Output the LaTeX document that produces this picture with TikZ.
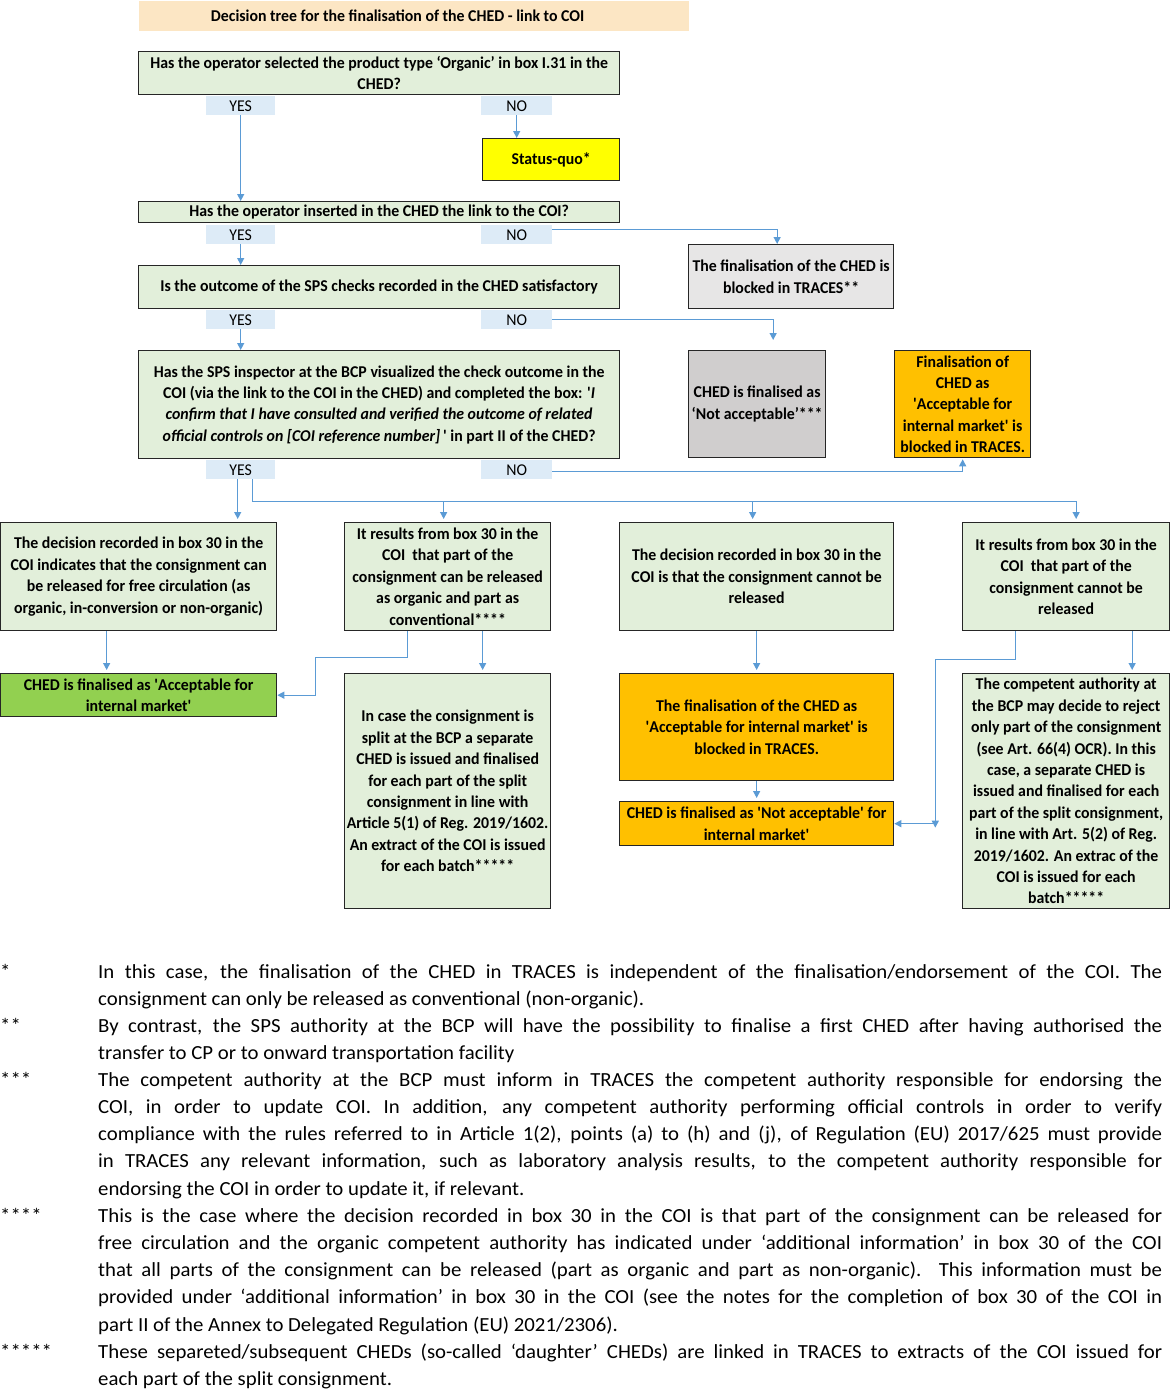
\documentclass[tikz,border=0pt]{standalone}
\usepackage{fontspec}
\setmainfont{Carlito}
\newfontfamily\boxfamily[FakeStretch=0.96]{Carlito}
\newfontfamily\notefamily[FakeStretch=1.04]{Carlito}
\usetikzlibrary{arrows.meta}

\definecolor{titlebg}{HTML}{FCE6C4}
\definecolor{qgreen}{HTML}{E2EFDA}
\definecolor{labblue}{HTML}{DDEBF7}
\definecolor{lightgrey}{HTML}{E7E6E6}
\definecolor{midgrey}{HTML}{D0CECE}
\definecolor{amber}{HTML}{FFC000}
\definecolor{brightyellow}{HTML}{FFFF00}
\definecolor{okgreen}{HTML}{92D050}
\definecolor{linkblue}{HTML}{5B9BD5}

\newcommand\aps{\textquotesingle}

\begin{document}
\begin{tikzpicture}[
    x=1pt, y=-1pt,
    box/.style={draw=black!85, line width=1.3pt, align=center, anchor=north west,
      inner xsep=2pt, inner ysep=0pt,
      font=\boxfamily\bfseries\fontsize{16.5}{21.4}\selectfont},
    qbox/.style={box, fill=qgreen},
    lab/.style={fill=labblue, anchor=north west, inner sep=0pt,
      minimum height=19pt, font=\boxfamily\fontsize{16.5}{19}\selectfont},
    arrow/.style={-{Triangle[length=7pt,width=7pt]}, line width=1.3pt, linkblue},
    wire/.style={line width=1.3pt, linkblue},
    note/.style={anchor=north west, inner sep=0pt, text width=1064pt, align=justify,
      font=\notefamily\fontsize{20}{27.2}\selectfont},
    notemark/.style={anchor=north west, inner sep=0pt,
      font=\notefamily\fontsize{20}{27.2}\selectfont}
  ]
  \useasboundingbox (0,0) rectangle (1170,1390);

  \node[box, draw=none, fill=titlebg, minimum width=550pt, minimum height=30pt] (title) at (138,0)
    {Decision tree for the finalisation of the CHED - link to COI\hspace*{32pt}};

  % questions
  \node[qbox, minimum width=481pt, minimum height=43pt] (q1) at (138,51)
    {Has the operator selected the product type ‘Organic’ in box I.31 in the\\CHED?};
  \node[lab, minimum width=69pt] (q1yes) at (206,96) {YES};
  \node[lab, minimum width=71pt] (q1no) at (481,96) {NO};
  \node[box, fill=brightyellow, minimum width=137pt, minimum height=42pt] (quo) at (482,138) {Status-quo*};

  \node[qbox, minimum width=481pt, minimum height=21pt] (q2) at (138,201)
    {Has the operator inserted in the CHED the link to the COI?};
  \node[lab, minimum width=69pt] (q2yes) at (206,225) {YES};
  \node[lab, minimum width=71pt] (q2no) at (481,225) {NO};
  \node[box, fill=lightgrey, minimum width=205pt, minimum height=64pt] (blocked) at (688,244)
    {The finalisation of the CHED is\\blocked in TRACES**};

  \node[qbox, minimum width=481pt, minimum height=43pt] (q3) at (138,265)
    {Is the outcome of the SPS checks recorded in the CHED satisfactory};
  \node[lab, minimum width=69pt] (q3yes) at (206,310) {YES};
  \node[lab, minimum width=71pt] (q3no) at (481,310) {NO};
  \node[box, fill=midgrey, minimum width=137pt, minimum height=107pt] (notacc) at (688,350)
    {CHED is finalised as\\‘Not acceptable’***};
  \node[box, fill=amber, minimum width=136pt, minimum height=107pt] (blockedim) at (894,350)
    {Finalisation of\\CHED as\\\aps Acceptable for\\internal market\aps{} is\\blocked in TRACES.};

  \node[qbox, minimum width=481pt, minimum height=108pt] (q4) at (138,350)
    {Has the SPS inspector at the BCP visualized the check outcome in the\\
     COI (via the link to the COI in the CHED) and completed the box: \aps{\itshape I}\\
     {\itshape confirm that I have consulted and verified the outcome of related}\\
     {\itshape official controls on [COI reference number]}\,\aps{} in part II of the CHED?};
  \node[lab, minimum width=69pt] (q4yes) at (206,460) {YES};
  \node[lab, minimum width=71pt] (q4no) at (481,460) {NO};

  % results
  \node[qbox, minimum width=276pt, minimum height=108pt] (r1) at (0,522)
    {The decision recorded in box 30 in the\\COI indicates that the consignment can\\
     be released for free circulation (as\\organic, in-conversion or non-organic)};
  \node[qbox, minimum width=206pt, minimum height=108pt] (r2) at (344,522)
    {It results from box 30 in the\\COI\ \ that part of the\\consignment can be released\\
     as organic and part as\\conventional****};
  \node[qbox, minimum width=274pt, minimum height=108pt] (r3) at (619,522)
    {The decision recorded in box 30 in the\\COI is that the consignment cannot be\\released};
  \node[qbox, minimum width=207pt, minimum height=108pt] (r4) at (962,522)
    {It results from box 30 in the\\COI\ \ that part of the\\consignment cannot be\\released};

  \node[box, fill=okgreen, minimum width=276pt, minimum height=43pt] (accept) at (0,673)
    {CHED is finalised as \aps Acceptable for\\internal market\aps};
  \node[qbox, minimum width=206pt, minimum height=235pt] (split) at (344,673)
    {In case the consignment is\\split at the BCP a separate\\CHED is issued and finalised\\
     for each part of the split\\consignment in line with\\Article 5(1) of Reg. 2019/1602.\\
     An extract of the COI is issued\\for each batch*****};
  \node[box, fill=amber, minimum width=274pt, minimum height=107pt] (o1) at (619,673)
    {The finalisation of the CHED as\\\aps Acceptable for internal market\aps{} is\\blocked in TRACES.};
  \node[box, fill=amber, minimum width=274pt, minimum height=44pt] (o2) at (619,801)
    {CHED is finalised as \aps Not acceptable\aps{} for\\internal market\aps};
  \node[qbox, minimum width=207pt, minimum height=235pt] (r4b) at (962,673)
    {The competent authority at\\the BCP may decide to reject\\only part of the consignment\\
     (see Art. 66(4) OCR). In this\\case, a separate CHED is\\issued and finalised for each\\
     part of the split consignment,\\in line with Art. 5(2) of Reg.\\2019/1602. An extrac of the\\
     COI is issued for each\\batch*****};

  % connectors
  \draw[arrow] (q1yes.south) -- (q1yes.south |- q2.north);
  \draw[arrow] (q1no.south) -- (q1no.south |- quo.north);
  \draw[arrow] ([yshift=5pt]q2no.east) -| ([xshift=-14pt]blocked.north);
  \draw[arrow] (q2yes.south) -- (q2yes.south |- q3.north);
  \draw[arrow] (q3no.east) -| ([xshift=16pt,yshift=10pt]notacc.north);
  \draw[arrow] (q3yes.south) -- (q3yes.south |- q4.north);
  \draw[arrow] ([yshift=-2pt]q4no.east) -| ([yshift=-1pt]blockedim.south);
  \draw[arrow, shorten >=3pt] ([xshift=-3pt]q4yes.south) -- ([xshift=-3pt]q4yes.south |- r1.north);
  \coordinate (bus) at ([xshift=12pt,yshift=-22pt]q4yes.south);
  \draw[wire] ([xshift=12pt]q4yes.south) -- (bus) -- ([xshift=10pt]r4.north |- bus);
  \foreach \n/\dx in {r2/-4, r3/-4, r4/10}
    \draw[arrow, shorten >=3pt] ([xshift=\dx pt]\n.north |- bus) -- ([xshift=\dx pt]\n.north);

  \draw[arrow, shorten >=3pt] ([xshift=-32pt]r1.south) -- ([xshift=-32pt]accept.north);
  \draw[arrow] ([xshift=-40pt]r2.south) -- ++(0,26) -- ++(-92,0) |- (accept.east);
  \draw[arrow, shorten >=3pt] ([xshift=35pt]r2.south) -- ([xshift=35pt]split.north);
  \draw[arrow, shorten >=3pt] (r3.south) -- (o1.north);
  \draw[arrow, shorten >=3pt] (o1.south) -- (o2.north);
  \draw[arrow] ([xshift=-51pt]r4.south) -- ++(0,28) -| ([xshift=41pt,yshift=-4pt]o2.east);
  \draw[arrow] ([xshift=41pt]o2.east) -- (o2.east);
  \draw[arrow, shorten >=3pt] ([xshift=66pt]r4.south) -- ([xshift=66pt]r4b.north);

  % footnotes
  \node[notemark] (m1) at (0,959) {\strut *};
  \node[note] (n1) at (98,959) {\strut In this case, the finalisation of the CHED in TRACES is independent of the finalisation/endorsement of the COI. The\linebreak
    consignment can only be released as conventional (non-organic).};
  \node[notemark] (m2) at (0,1013) {\strut **};
  \node[note] (n2) at (98,1013) {\strut By contrast, the SPS authority at the BCP will have the possibility to finalise a first CHED after having authorised the\linebreak
    transfer to CP or to onward transportation facility};
  \node[notemark] (m3) at (0,1067) {\strut ***};
  \node[note] (n3) at (98,1067) {\strut The competent authority at the BCP must inform in TRACES the competent authority responsible for endorsing the\linebreak
    COI, in order to update COI. In addition, any competent authority performing official controls in order to verify\linebreak
    compliance with the rules referred to in Article 1(2), points (a) to (h) and (j), of Regulation (EU) 2017/625 must provide\linebreak
    in TRACES any relevant information, such as laboratory analysis results, to the competent authority responsible for\linebreak
    endorsing the COI in order to update it, if relevant.};
  \node[notemark] (m4) at (0,1203) {\strut ****};
  \node[note] (n4) at (98,1203) {\strut This is the case where the decision recorded in box 30 in the COI is that part of the consignment can be released for\linebreak
    free circulation and the organic competent authority has indicated under ‘additional information’ in box 30 of the COI\linebreak
    that all parts of the consignment can be released (part as organic and part as non-organic).\ \ This information must be\linebreak
    provided under ‘additional information’ in box 30 in the COI (see the notes for the completion of box 30 of the COI in\linebreak
    part II of the Annex to Delegated Regulation (EU) 2021/2306).};
  \node[notemark] (m5) at (0,1339) {\strut *****};
  \node[note] (n5) at (98,1339) {\strut These separeted/subsequent CHEDs (so-called ‘daughter’ CHEDs) are linked in TRACES to extracts of the COI issued for\linebreak
    each part of the split consignment.};
\end{tikzpicture}
\end{document}
